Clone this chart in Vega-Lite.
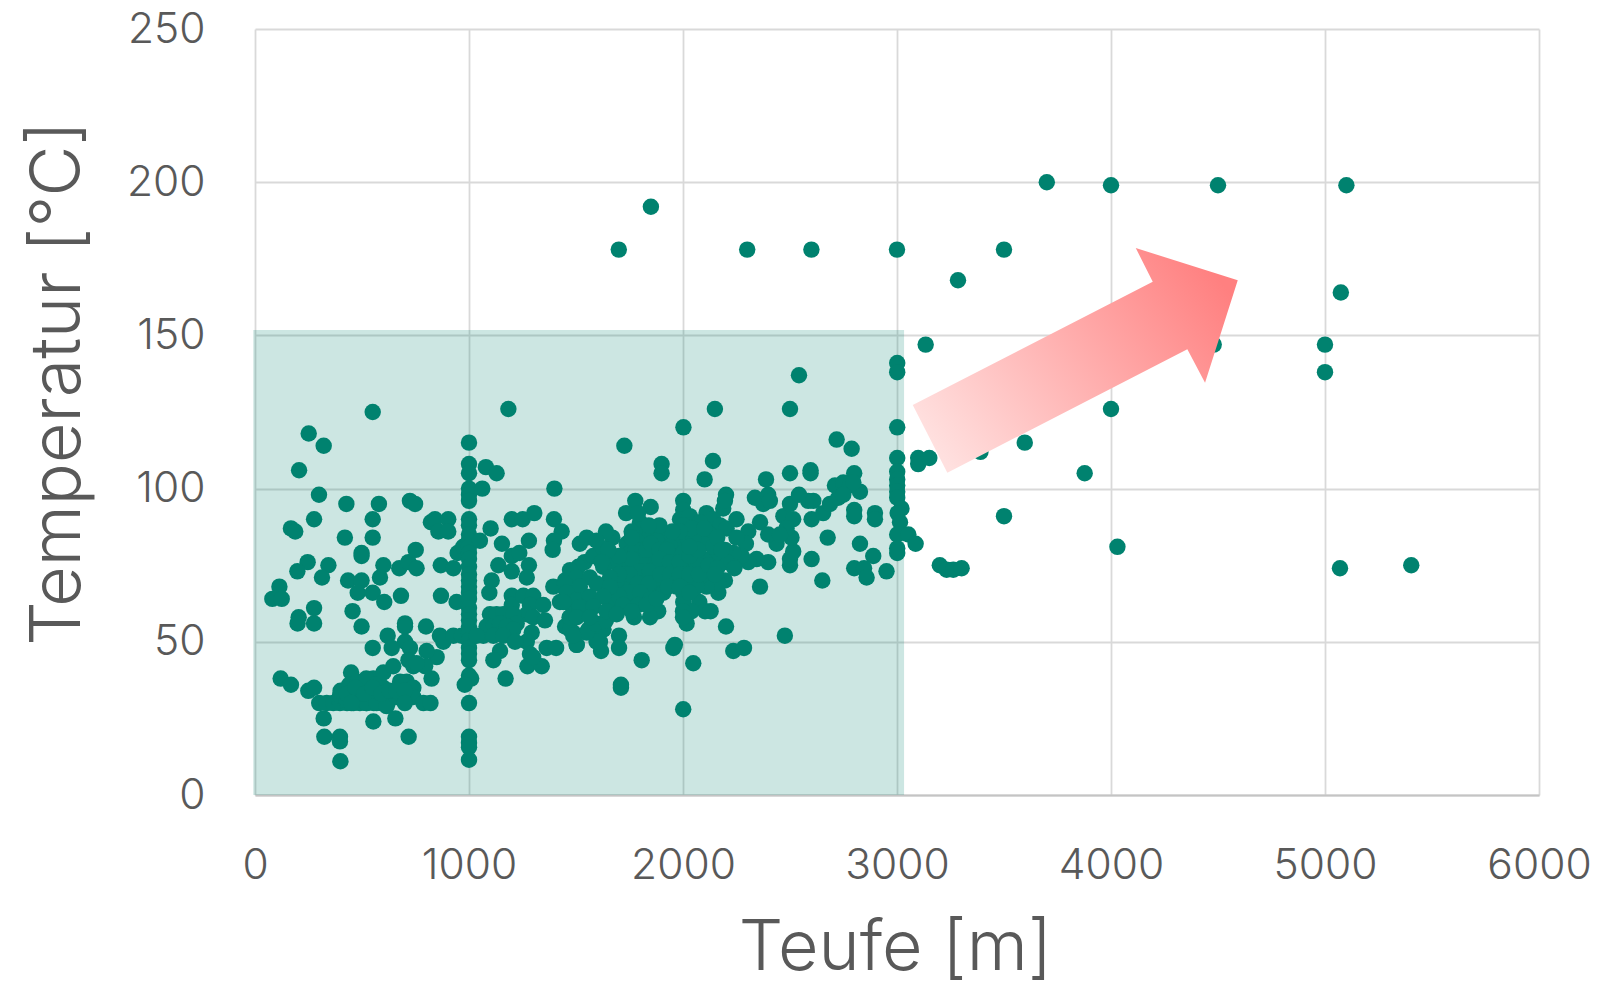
{"$schema":"https://vega.github.io/schema/vega-lite/v6.json","width":1284,"height":766,"autosize":{"type":"none"},"padding":{"left":255,"top":29,"right":62,"bottom":192},"background":"white","config":{"view":{"stroke":null},"font":"Inter"},
"datasets":{"zone":[{"x0":-8,"x1":3033,"y0":0,"y1":151.8}],"arrow":[{"x":3832,"y":148.5}],
"pts":[
{"x":550,"y":125},{"x":251,"y":118},{"x":321,"y":114},{"x":206,"y":106},{"x":299,"y":98},{"x":276,"y":90},{"x":168,"y":87},{"x":188,"y":86},{"x":427,"y":95},{"x":579,"y":95},{"x":550,"y":90},{"x":550,"y":84},{"x":420,"y":84},{"x":498,"y":79},{"x":498,"y":78},{"x":246,"y":76},{"x":198,"y":73},{"x":343,"y":75},{"x":313,"y":71},{"x":114,"y":68},{"x":81,"y":64},{"x":125,"y":64},{"x":204,"y":58},{"x":199,"y":56},{"x":276,"y":61},{"x":276,"y":56},{"x":435,"y":70},{"x":498,"y":70},{"x":480,"y":66},{"x":550,"y":66},{"x":584,"y":71},{"x":600,"y":75},{"x":604,"y":63},{"x":456,"y":60},{"x":498,"y":55},{"x":724,"y":96},{"x":748,"y":95},{"x":674,"y":74},{"x":717,"y":76},{"x":751,"y":80},{"x":755,"y":74},{"x":682,"y":65},{"x":701,"y":56},{"x":701,"y":55},{"x":620,"y":52},{"x":550,"y":48},{"x":701,"y":50},{"x":639,"y":48},{"x":724,"y":48},{"x":717,"y":44},{"x":799,"y":55},{"x":822,"y":89},{"x":841,"y":90},{"x":903,"y":90},{"x":857,"y":86},{"x":903,"y":86},{"x":868,"y":75},{"x":927,"y":74},{"x":869,"y":65},{"x":942,"y":63},{"x":947,"y":79},{"x":973,"y":81},{"x":864,"y":52},{"x":880,"y":50},{"x":849,"y":45},{"x":802,"y":47},{"x":927,"y":52},{"x":966,"y":52},
{"x":1000,"y":115},{"x":1000,"y":108},{"x":1000,"y":105},{"x":1000,"y":100},{"x":1000,"y":98},{"x":1000,"y":96},{"x":1000,"y":90},{"x":1000,"y":88},{"x":1000,"y":85},{"x":1000,"y":83},{"x":1000,"y":81},{"x":1000,"y":79},{"x":1000,"y":77},{"x":1000,"y":74.5},{"x":1000,"y":72},{"x":1000,"y":70},{"x":1000,"y":68},{"x":1000,"y":66},{"x":1000,"y":64},{"x":1000,"y":61},{"x":1000,"y":59},{"x":1000,"y":57},{"x":1000,"y":55},{"x":1000,"y":53},{"x":1000,"y":50.5},{"x":1000,"y":48},{"x":1000,"y":46},{"x":1000,"y":44},{"x":1000,"y":39},{"x":1010,"y":38},{"x":980,"y":36},{"x":1000,"y":30},{"x":1000,"y":19},{"x":1000,"y":17},{"x":1000,"y":15.6},{"x":1000,"y":11.5},
{"x":120,"y":38},{"x":168,"y":36},{"x":249,"y":34},{"x":276,"y":35},{"x":449,"y":40},{"x":300,"y":30},{"x":335,"y":30},{"x":366,"y":30},{"x":397,"y":30},{"x":430,"y":30},{"x":460,"y":30},{"x":490,"y":30},{"x":520,"y":30},{"x":555,"y":30},{"x":590,"y":30},{"x":620,"y":30},{"x":321,"y":25},{"x":553,"y":24},{"x":656,"y":25},{"x":324,"y":19},{"x":397,"y":19},{"x":397,"y":17.5},{"x":718,"y":19},{"x":399,"y":11},{"x":397,"y":32.5},{"x":444,"y":32},{"x":490,"y":32},{"x":537,"y":32},{"x":584,"y":32},{"x":615,"y":31},{"x":428,"y":31},{"x":475,"y":31},{"x":522,"y":30},{"x":568,"y":30},{"x":615,"y":29},{"x":662,"y":32},{"x":480,"y":34},{"x":520,"y":35},{"x":560,"y":34},{"x":600,"y":35},{"x":553,"y":38},{"x":600,"y":40},{"x":646,"y":42},{"x":678,"y":37},{"x":709,"y":37},{"x":740,"y":35},{"x":693,"y":32},{"x":740,"y":32},{"x":787,"y":30},{"x":820,"y":30},{"x":825,"y":38},{"x":795,"y":42},{"x":740,"y":42},{"x":755,"y":43},
{"x":400,"y":34},{"x":440,"y":36},{"x":480,"y":37},{"x":520,"y":38},{"x":560,"y":36},{"x":430,"y":33},{"x":470,"y":35},{"x":510,"y":33},{"x":550,"y":35},{"x":590,"y":33},{"x":630,"y":34},{"x":660,"y":34},{"x":700,"y":34},{"x":450,"y":30},{"x":700,"y":30},
{"x":1184,"y":126},{"x":1079,"y":107},{"x":1129,"y":105},{"x":1062,"y":100},{"x":1101,"y":87},{"x":1200,"y":90},{"x":1251,"y":90},{"x":1305,"y":92},{"x":1051,"y":83},{"x":1154,"y":82},{"x":1280,"y":83},{"x":1200,"y":78},{"x":1235,"y":79},{"x":1137,"y":75},{"x":1200,"y":73},{"x":1280,"y":75},{"x":1270,"y":71},{"x":1106,"y":70},{"x":1095,"y":66},{"x":1200,"y":65},{"x":1200,"y":62},{"x":1254,"y":65},{"x":1300,"y":65},{"x":1285,"y":62},{"x":1347,"y":62},{"x":1270,"y":59},{"x":1300,"y":58},{"x":1355,"y":57},{"x":1293,"y":53},{"x":1270,"y":50},{"x":1098,"y":59},{"x":1129,"y":59},{"x":1160,"y":59},{"x":1207,"y":59},{"x":1223,"y":56},{"x":1082,"y":55},{"x":1114,"y":55},{"x":1145,"y":56},{"x":1176,"y":55},{"x":1207,"y":54},{"x":1067,"y":52},{"x":1114,"y":52},{"x":1160,"y":52},{"x":1215,"y":50},{"x":1036,"y":52},{"x":1145,"y":47},{"x":1114,"y":44},{"x":1171,"y":38},{"x":1285,"y":46},{"x":1273,"y":42},{"x":1340,"y":42},{"x":1300,"y":45},{"x":1363,"y":48},{"x":1407,"y":48},{"x":1399,"y":100},{"x":1397,"y":90},{"x":1433,"y":86},{"x":1397,"y":83},{"x":1391,"y":80},
{"x":1394,"y":68},{"x":1449,"y":70},{"x":1425,"y":63},{"x":1472,"y":62.5},{"x":1449,"y":55},{"x":1487,"y":53},{"x":1503,"y":49},{"x":1558,"y":54},{"x":1581,"y":53},{"x":1628,"y":54},{"x":1612,"y":50},
{"x":1726,"y":114},{"x":1900,"y":108},{"x":1900,"y":105},{"x":2002,"y":120},{"x":1777,"y":96},{"x":1849,"y":94},{"x":1734,"y":92},
{"x":2542,"y":137},{"x":2500,"y":126},{"x":2149,"y":126},{"x":2140,"y":109},{"x":2101,"y":103},{"x":2388,"y":103},{"x":2500,"y":105},{"x":2596,"y":105},{"x":2596,"y":106},{"x":2718,"y":116},{"x":2788,"y":113},{"x":2800,"y":105},{"x":3001,"y":141},{"x":3001,"y":138},{"x":3001,"y":120},{"x":3001,"y":110},{"x":3001,"y":105.5},{"x":3001,"y":103},{"x":3001,"y":101},{"x":3001,"y":99},{"x":3001,"y":97},{"x":3021,"y":93.5},{"x":3003,"y":92},{"x":3014,"y":89},{"x":3001,"y":85},{"x":3053,"y":85},{"x":3087,"y":82},{"x":3001,"y":80.5},{"x":3001,"y":79},{"x":3134,"y":147},{"x":3099,"y":110},{"x":3099,"y":108},{"x":3151,"y":110},{"x":3200,"y":75},{"x":3232,"y":73.5},{"x":3263,"y":73.5},{"x":3302,"y":74},
{"x":2201,"y":98},{"x":2188,"y":93.5},{"x":2196,"y":96},{"x":2336,"y":97},{"x":2375,"y":95},{"x":2398,"y":98},{"x":2406,"y":96},{"x":2250,"y":90},{"x":2360,"y":89},{"x":2305,"y":86},{"x":2469,"y":91},{"x":2500,"y":95},{"x":2542,"y":98},{"x":2515,"y":90},{"x":2585,"y":96},{"x":2609,"y":96},{"x":2601,"y":90},{"x":2655,"y":92},{"x":2687,"y":95},{"x":2710,"y":101},{"x":2749,"y":102},{"x":2780,"y":101},{"x":2827,"y":99},{"x":2796,"y":102},{"x":2726,"y":97},{"x":2749,"y":98},{"x":2800,"y":93},{"x":2800,"y":91},{"x":2897,"y":92},{"x":2897,"y":90},{"x":2676,"y":84},{"x":2827,"y":82},{"x":2889,"y":78},{"x":2800,"y":74},{"x":2846,"y":74},{"x":2858,"y":71},{"x":2951,"y":73},{"x":2651,"y":70},{"x":2601,"y":77},{"x":2500,"y":75},{"x":2500,"y":77},{"x":2515,"y":79.5},{"x":2507,"y":84},{"x":2484,"y":87},{"x":2437,"y":82},{"x":2398,"y":85},{"x":2453,"y":85},{"x":2398,"y":76},{"x":2360,"y":68},{"x":2476,"y":52},{"x":2344,"y":77},{"x":2305,"y":76},{"x":2294,"y":82},{"x":2274,"y":78},{"x":2235,"y":79},{"x":2196,"y":80},{"x":2204,"y":76},{"x":2142,"y":78},{"x":2095,"y":77},{"x":2196,"y":70},{"x":2165,"y":66},{"x":2165,"y":69},{"x":2110,"y":68},{"x":2076,"y":63},{"x":2103,"y":60},{"x":2129,"y":60},{"x":2201,"y":55},{"x":2235,"y":47},{"x":2285,"y":48},{"x":2048,"y":43},{"x":2001,"y":28},{"x":1955,"y":48},{"x":1962,"y":49},{"x":2017,"y":56},{"x":1807,"y":44},{"x":1710,"y":36},{"x":1710,"y":35},{"x":1884,"y":60},{"x":1846,"y":58},{"x":1771,"y":58},{"x":1701,"y":52},{"x":1701,"y":48},{"x":1617,"y":47},{"x":1503,"y":49},{"x":1627,"y":54},{"x":1596,"y":50},{"x":1550,"y":53},{"x":1472,"y":54},{"x":1487,"y":52},
{"x":2001,"y":96},{"x":2001,"y":93},{"x":1986,"y":90},{"x":2032,"y":91},{"x":2017,"y":88},{"x":2110,"y":92},{"x":2141,"y":90},{"x":2079,"y":89},{"x":2173,"y":88},{"x":2126,"y":85},{"x":2204,"y":87},{"x":2095,"y":82},{"x":2141,"y":81},{"x":1799,"y":89},{"x":1799,"y":86.5},{"x":1846,"y":85},{"x":1923,"y":85},{"x":1877,"y":83},{"x":1970,"y":83},{"x":1939,"y":81},{"x":1783,"y":83},{"x":1737,"y":82},{"x":1752,"y":79},{"x":1814,"y":80},{"x":1861,"y":79},{"x":1908,"y":78},{"x":1955,"y":78},{"x":2001,"y":79},{"x":1737,"y":75.5},{"x":1783,"y":75},{"x":1830,"y":75.5},{"x":1877,"y":74.5},{"x":1923,"y":74},{"x":1970,"y":74},{"x":2017,"y":74.5},{"x":2064,"y":75.5},{"x":1721,"y":72},{"x":1768,"y":71},{"x":1814,"y":71},{"x":1861,"y":71},{"x":1908,"y":70},{"x":1955,"y":70},{"x":2001,"y":70},{"x":2048,"y":71},{"x":2095,"y":72},{"x":1737,"y":68},{"x":1783,"y":68},{"x":1830,"y":67},{"x":1877,"y":68},{"x":1908,"y":66},{"x":1970,"y":68},{"x":2001,"y":66},{"x":2001,"y":63},{"x":1768,"y":65},{"x":1814,"y":64},{"x":2064,"y":68},
{"x":1760,"y":86},{"x":1780,"y":80},{"x":1800,"y":77},{"x":1830,"y":80},{"x":1850,"y":82},{"x":1890,"y":80},{"x":1925,"y":80},{"x":1760,"y":77},{"x":1800,"y":73},{"x":1845,"y":73},{"x":1890,"y":77},{"x":1940,"y":76},{"x":1985,"y":76},{"x":2030,"y":78},{"x":1750,"y":72},{"x":1790,"y":69},{"x":1840,"y":69},{"x":1895,"y":72},{"x":1940,"y":72},{"x":1985,"y":72},{"x":2030,"y":72},{"x":2075,"y":72},{"x":1750,"y":66},{"x":1800,"y":66},{"x":1850,"y":64},{"x":1790,"y":62},{"x":1830,"y":62},{"x":1875,"y":64},{"x":1930,"y":68},{"x":1985,"y":68},{"x":2030,"y":66},{"x":2020,"y":84},{"x":2050,"y":84},{"x":2000,"y":88},{"x":2040,"y":87},{"x":2100,"y":87},{"x":2070,"y":80},{"x":2030,"y":81},{"x":1985,"y":86},{"x":1950,"y":86},{"x":1890,"y":88},{"x":1840,"y":88},{"x":1790,"y":92},{"x":1760,"y":84},{"x":2160,"y":84},{"x":2180,"y":80},{"x":2120,"y":75},{"x":2160,"y":74},{"x":2240,"y":74},{"x":2250,"y":84},{"x":2150,"y":72},{"x":2040,"y":60},{"x":2000,"y":60},{"x":2000,"y":58},
{"x":1540,"y":76},{"x":1580,"y":78},{"x":1650,"y":76},{"x":1680,"y":76},{"x":1700,"y":78},{"x":1690,"y":70},{"x":1660,"y":63},{"x":1470,"y":58},{"x":1530,"y":60},{"x":1590,"y":56},{"x":1640,"y":57},{"x":1700,"y":65},{"x":1720,"y":62},{"x":1760,"y":60},{"x":1700,"y":72},{"x":1670,"y":84},{"x":1640,"y":86},
{"x":1518,"y":82},{"x":1550,"y":84},{"x":1596,"y":83},{"x":1627,"y":80.5},{"x":1651,"y":80},{"x":1511,"y":74.5},{"x":1472,"y":73.4},{"x":1503,"y":71},{"x":1448,"y":69},{"x":1565,"y":71},{"x":1627,"y":74.5},{"x":1659,"y":71},{"x":1596,"y":69},{"x":1659,"y":68},{"x":1518,"y":68},{"x":1620,"y":76},{"x":1456,"y":66},{"x":1503,"y":63.6},{"x":1565,"y":64.7},{"x":1627,"y":64.7},{"x":1441,"y":63},{"x":1518,"y":61.4},{"x":1581,"y":61.4},{"x":1643,"y":60},{"x":1690,"y":59},{"x":1503,"y":58},{"x":1565,"y":58},
{"x":1700,"y":178},{"x":1850,"y":192},{"x":2300,"y":178},{"x":2600,"y":178},{"x":3000,"y":178},{"x":3500,"y":178},{"x":3700,"y":200},{"x":4000,"y":199},{"x":4500,"y":199},{"x":5100,"y":199},{"x":3285,"y":168},{"x":5074,"y":164},{"x":4480,"y":147},{"x":5000,"y":147},{"x":5000,"y":138},{"x":4000,"y":126},{"x":3597,"y":115},{"x":3390,"y":112},{"x":3877,"y":105},{"x":3500,"y":91},{"x":4030,"y":81},{"x":5070,"y":74},{"x":5403,"y":75}
]},
"layer":[
{"data":{"name":"zone"},"mark":{"type":"rect","fill":"#00826f","opacity":0.2},"encoding":{"x":{"field":"x0","type":"quantitative","scale":{"domain":[0,6000],"nice":false},"title":"Teufe [m]","axis":{"values":[0,1000,2000,3000,4000,5000,6000],"grid":true,"gridColor":"#d9d9d9","gridWidth":1.8,"domainColor":"#c4c4c4","domainWidth":1.8,"ticks":false,"labelColor":"#595959","labelFont":"Inter","labelFontWeight":300,"labelFontSize":42.5,"labelPadding":49,"labelBound":false,"labelFlush":false,"format":"d","titleColor":"#595959","titleFont":"Inter","titleFontWeight":300,"titleFontSize":70,"titleX":640,"titleY":174,"titleAlign":"center","titleBaseline":"alphabetic"}},"x2":{"field":"x1"},"y":{"field":"y0","type":"quantitative","scale":{"domain":[0,250],"nice":false},"title":"Temperatur [°C]","axis":{"values":[0,50,100,150,200,250],"grid":true,"gridColor":"#d9d9d9","gridWidth":1.8,"domain":false,"ticks":false,"labelColor":"#595959","labelFont":"Inter","labelFontWeight":300,"labelFontSize":42.5,"labelPadding":50,"labelBound":false,"labelFlush":false,"format":"d","titleColor":"#595959","titleFont":"Inter","titleFontWeight":300,"titleFontSize":70,"titleX":-176,"titleY":354,"titleAlign":"center","titleBaseline":"alphabetic","titleAngle":-90}},"y2":{"field":"y1"}}},
{"data":{"name":"pts"},"mark":{"type":"point","shape":"circle","filled":true,"fill":"#00826f","opacity":1,"size":270,"strokeWidth":0},"encoding":{"x":{"field":"x","type":"quantitative"},"y":{"field":"y","type":"quantitative"}}},
{"data":{"name":"arrow"},"mark":{"type":"point","filled":true,"opacity":1,"strokeWidth":0,"size":40000,"shape":"M-1.623 0.65L-1.277 1.327L1.123 0.093L1.3 0.427L1.627 -0.597L0.607 -0.92L0.777 -0.583Z","fill":{"gradient":"linear","x1":0,"y1":0.75,"x2":1,"y2":0.25,"stops":[{"offset":0,"color":"#ffe0df"},{"offset":1,"color":"#ff8080"}]}},"encoding":{"x":{"field":"x","type":"quantitative"},"y":{"field":"y","type":"quantitative"}}}
]}
